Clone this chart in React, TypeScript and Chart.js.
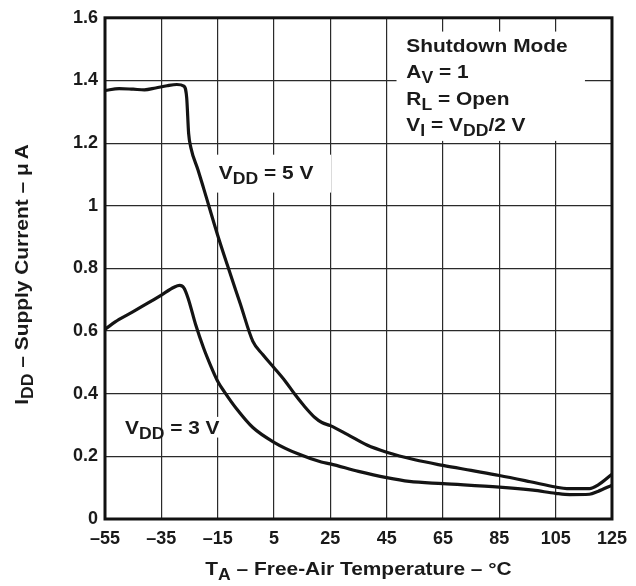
import React, { useEffect, useRef } from 'react';
import { Chart, registerables } from 'chart.js';

Chart.register(...registerables);

// ---- data ----
const xTickValues = [-55, -35, -15, 5, 25, 45, 65, 85, 105, 125];
const xTickLabels = ['–55', '–35', '–15', '5', '25', '45', '65', '85', '105', '125'];
const yTickValues = [0, 0.2, 0.4, 0.6, 0.8, 1, 1.2, 1.4, 1.6];
const yTickLabels = ['0', '0.2', '0.4', '0.6', '0.8', '1', '1.2', '1.4', '1.6'];

const temp5V = [-55, -50, -45, -41, -37, -33, -29.5, -27, -26, -25.3, -24.5, -22, -19.9, -15, -11.5, -7, -2.5, 1, 5, 9, 12.4, 15.5, 19.5, 22, 25, 31, 38, 45, 55, 65, 75, 85, 96, 105, 109, 117, 120, 125];
const current5V = [1.368, 1.374, 1.372, 1.370, 1.376, 1.383, 1.387, 1.382, 1.345, 1.230, 1.185, 1.115, 1.053, 0.906, 0.809, 0.688, 0.567, 0.525, 0.483, 0.440, 0.398, 0.363, 0.324, 0.308, 0.298, 0.270, 0.236, 0.213, 0.189, 0.171, 0.155, 0.139, 0.119, 0.102, 0.097, 0.097, 0.108, 0.143];

const temp3V = [-55, -50, -45, -40, -35, -30.5, -28.5, -27, -25.5, -22.8, -20, -17.5, -15, -12.3, -8.3, -2.5, 5, 13.5, 21.8, 25, 35, 45, 53, 65, 85, 97, 105, 110, 117, 120, 125];
const current3V = [0.606, 0.637, 0.662, 0.688, 0.715, 0.740, 0.746, 0.738, 0.705, 0.620, 0.546, 0.490, 0.440, 0.402, 0.352, 0.292, 0.245, 0.208, 0.182, 0.176, 0.152, 0.132, 0.120, 0.113, 0.102, 0.092, 0.082, 0.078, 0.079, 0.088, 0.108];

// ---- styles ----
const FONT_FAMILY = '"Liberation Sans", Arial, Helvetica, sans-serif';
const TEXT_COLOR = '#1a1a1a';
const MAIN_SIZE = 19;
const SUB_SIZE = 16;
const SUB_DY = 5;
const STRETCH = 1.1;

type Seg = { t: string; sub?: boolean };

const legendLines: Seg[][] = [
  [{ t: 'Shutdown Mode' }],
  [{ t: 'A' }, { t: 'V', sub: true }, { t: ' = 1' }],
  [{ t: 'R' }, { t: 'L', sub: true }, { t: ' = Open' }],
  [{ t: 'V' }, { t: 'I', sub: true }, { t: ' = V' }, { t: 'DD', sub: true }, { t: '/2 V' }],
];
const label5V: Seg[] = [{ t: 'V' }, { t: 'DD', sub: true }, { t: ' = 5 V' }];
const label3V: Seg[] = [{ t: 'V' }, { t: 'DD', sub: true }, { t: ' = 3 V' }];
const xTitle: Seg[] = [{ t: 'T' }, { t: 'A', sub: true }, { t: ' – Free-Air Temperature – °C' }];
const yTitle: Seg[] = [{ t: 'I' }, { t: 'DD', sub: true }, { t: ' – Supply Current – μ\u2009A' }];

function fontFor(sub?: boolean) {
  return `bold ${sub ? SUB_SIZE : MAIN_SIZE}px ${FONT_FAMILY}`;
}

function drawRich(ctx: CanvasRenderingContext2D, x: number, y: number, segs: Seg[], align: 'left' | 'center', rotate = 0) {
  ctx.save();
  ctx.translate(x, y);
  if (rotate) ctx.rotate(rotate);
  ctx.scale(STRETCH, 1);
  let w = 0;
  for (const s of segs) {
    ctx.font = fontFor(s.sub);
    w += ctx.measureText(s.t).width;
  }
  let cx = align === 'center' ? -w / 2 : 0;
  ctx.textAlign = 'left';
  ctx.textBaseline = 'alphabetic';
  ctx.fillStyle = TEXT_COLOR;
  for (const s of segs) {
    ctx.font = fontFor(s.sub);
    ctx.fillText(s.t, cx, s.sub ? SUB_DY : 0);
    cx += ctx.measureText(s.t).width;
  }
  ctx.restore();
}

const overlayPlugin = {
  id: 'overlay',
  beforeDatasetsDraw(chart: any) {
    const { ctx, scales } = chart;
    const xs = scales.x;
    const ys = scales.y;
    const box = (x0: number, x1: number, y0: number, y1: number) => {
      const px0 = xs.getPixelForValue(x0);
      const px1 = xs.getPixelForValue(x1);
      const py0 = ys.getPixelForValue(y0);
      const py1 = ys.getPixelForValue(y1);
      ctx.fillStyle = '#ffffff';
      ctx.fillRect(Math.min(px0, px1), Math.min(py0, py1), Math.abs(px1 - px0), Math.abs(py1 - py0));
    };
    ctx.save();
    box(48.5, 115.4, 1.556, 1.207); // conditions box
    box(-18.9, 25.3, 1.163, 1.042); // 5 V label
    box(-19.6, -12.1, 0.326, 0.26); // 3 V label
    ctx.restore();
  },
  afterDatasetsDraw(chart: any) {
    const { ctx, chartArea, scales } = chart;
    const xs = scales.x;
    const ys = scales.y;
    // frame
    ctx.save();
    ctx.strokeStyle = '#111111';
    ctx.lineWidth = 3;
    ctx.strokeRect(chartArea.left, chartArea.top, chartArea.right - chartArea.left, chartArea.bottom - chartArea.top);
    ctx.restore();

    // conditions text
    const lx = xs.getPixelForValue(52);
    const baselines = [1.492, 1.407, 1.321, 1.239];
    legendLines.forEach((segs, i) => drawRich(ctx, lx, ys.getPixelForValue(baselines[i]), segs, 'left'));

    drawRich(ctx, xs.getPixelForValue(-14.6), ys.getPixelForValue(1.084), label5V, 'left');
    drawRich(ctx, xs.getPixelForValue(-47.9), ys.getPixelForValue(0.272), label3V, 'left');

    // axis titles
    const cx = (chartArea.left + chartArea.right) / 2;
    drawRich(ctx, cx, chartArea.bottom + 56, xTitle, 'center');
    const cy = (chartArea.top + chartArea.bottom) / 2 + 6;
    drawRich(ctx, chartArea.left - 77, cy, yTitle, 'center', -Math.PI / 2);
  },
};

export default function App() {
  const canvasRef = useRef<HTMLCanvasElement | null>(null);

  useEffect(() => {
    const canvas = canvasRef.current;
    if (!canvas) return;
    const tickFont = { family: FONT_FAMILY, size: 18, weight: 'bold' as const };
    const chart = new Chart(canvas, {
      type: 'line',
      data: {
        datasets: [
          {
            label: 'VDD = 5 V',
            data: temp5V.map((t, i) => ({ x: t, y: current5V[i] })),
            borderColor: '#141414',
            borderWidth: 3.2,
            pointRadius: 0,
            fill: false,
            cubicInterpolationMode: 'monotone',
          },
          {
            label: 'VDD = 3 V',
            data: temp3V.map((t, i) => ({ x: t, y: current3V[i] })),
            borderColor: '#141414',
            borderWidth: 3.2,
            pointRadius: 0,
            fill: false,
            cubicInterpolationMode: 'monotone',
          },
        ],
      },
      options: {
        animation: false,
        responsive: false,
        maintainAspectRatio: false,
        layout: { padding: { left: 0, right: 23, top: 14, bottom: 0 } },
        plugins: {
          legend: { display: false },
          tooltip: { enabled: false },
        },
        scales: {
          x: {
            type: 'linear',
            min: -55,
            max: 125,
            afterBuildTicks: (scale: any) => {
              scale.ticks = xTickValues.map((v) => ({ value: v }));
            },
            afterFit: (scale: any) => {
              scale.height = 67;
            },
            ticks: {
              autoSkip: false,
              maxRotation: 0,
              padding: 9,
              color: TEXT_COLOR,
              font: tickFont,
              callback: (value: any) => {
                const i = xTickValues.indexOf(Number(value));
                return i >= 0 ? xTickLabels[i] : '';
              },
            },
            grid: { color: '#2a2a2a', lineWidth: 1.2, drawTicks: false },
            border: { display: false },
          },
          y: {
            type: 'linear',
            min: 0,
            max: 1.6,
            afterBuildTicks: (scale: any) => {
              scale.ticks = yTickValues.map((v) => ({ value: v }));
            },
            afterFit: (scale: any) => {
              scale.width = 105;
            },
            ticks: {
              autoSkip: false,
              padding: 7,
              color: TEXT_COLOR,
              font: tickFont,
              callback: (value: any) => {
                const i = yTickValues.findIndex((v) => Math.abs(v - Number(value)) < 1e-6);
                return i >= 0 ? yTickLabels[i] : '';
              },
            },
            grid: { color: '#2a2a2a', lineWidth: 1.2, drawTicks: false },
            border: { display: false },
          },
        },
      },
      plugins: [overlayPlugin],
    } as any);
    return () => chart.destroy();
  }, []);

  return (
    <div style={{ position: 'fixed', left: 0, top: 0, width: 636, height: 586, background: '#ffffff' }}>
      <canvas ref={canvasRef} width={636} height={586} style={{ display: 'block' }} />
    </div>
  );
}
